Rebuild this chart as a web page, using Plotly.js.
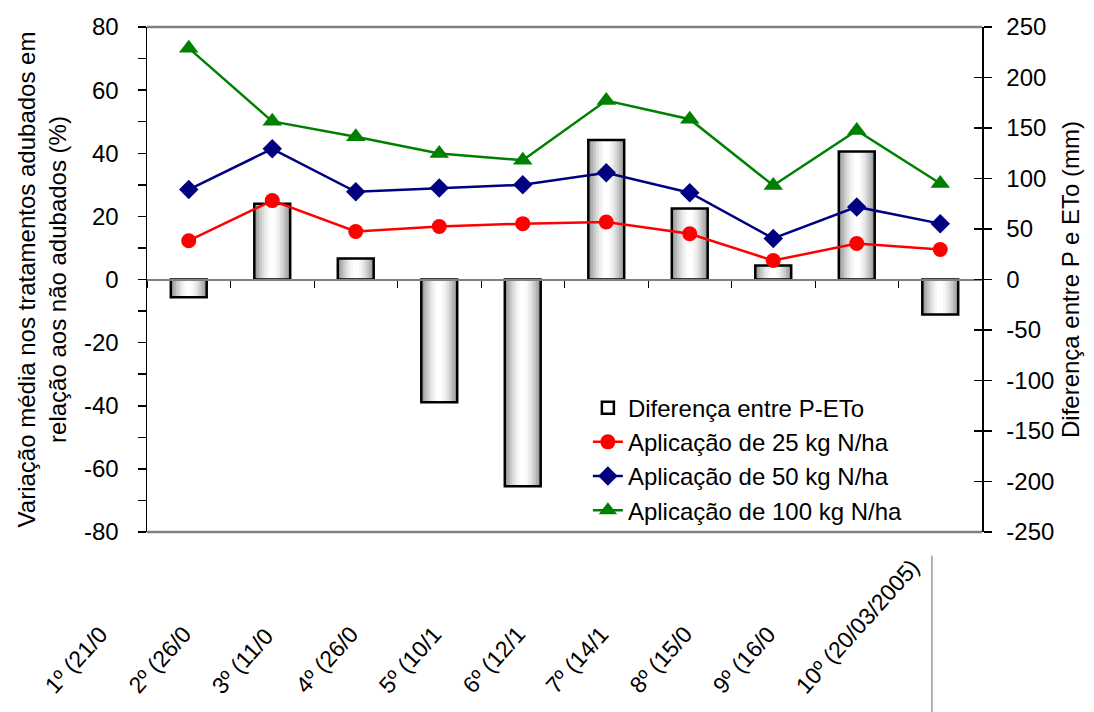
<!DOCTYPE html>
<html>
<head>
<meta charset="utf-8">
<script src="https://cdn.plot.ly/plotly-3.0.1.min.js"></script>
<style>html,body{margin:0;padding:0;background:#fff;}#chart{width:1094px;height:712px;}</style>
</head>
<body>
<div id="chart"></div>
<script>
// ---- data ----
const categories = ['1º','2º','3º','4º','5º','6º','7º','8º','9º','10º'];
const tickLabels = ['1º (21/0','2º (26/0','3º (11/0','4º (26/0','5º (10/1','6º (12/1','7º (14/1','8º (15/0','9º (16/0','10º (20/03/2005)'];
const diffPETo = [-17.5, 75, 20.8, -121.5, -204.6, 138, 70.3, 13.9, 126.7, -34.7];
const n25  = [12.3, 25.0, 15.2, 16.8, 17.7, 18.2, 14.5, 6.0, 11.4, 9.5];
const n50  = [28.5, 41.4, 27.8, 29.0, 30.0, 33.8, 27.5, 13.0, 23.0, 17.7];
const n100 = [73.3, 50.1, 45.2, 39.9, 37.8, 56.7, 50.8, 29.8, 47.2, 30.4];
const leftTicks  = [-80, -60, -40, -20, 0, 20, 40, 60, 80];
const rightTicks = [-250, -200, -150, -100, -50, 0, 50, 100, 150, 200, 250];
const seriesNames = ['Diferença entre P-ETo','Aplicação de 25 kg N/ha','Aplicação de 50 kg N/ha','Aplicação de 100 kg N/ha'];

// ---- styling ----
const FONT = 'Liberation Sans, Arial, Helvetica, sans-serif';
const BAR_W = 0.43;
const layers = [
  [1.00, '#9a9a9a'], [0.86, '#b2b2b2'], [0.72, '#c9c9c9'], [0.58, '#dcdcdc'],
  [0.44, '#ececec'], [0.30, '#f7f7f7'], [0.16, '#ffffff']
];

const traces = [];
layers.forEach(([f, c]) => {
  traces.push({type:'bar', x:categories, y:diffPETo, xaxis:'x', yaxis:'y',
    width:BAR_W*f, marker:{color:c, line:{width:0}}, showlegend:false, hoverinfo:'skip'});
});
traces.push({type:'bar', x:categories, y:diffPETo, xaxis:'x', yaxis:'y', name:seriesNames[0],
  width:BAR_W, marker:{color:'rgba(255,255,255,0)', line:{color:'#000', width:2.5}},
  legendgroup:'g0'});

function lineTrace(y, name, color, symbol, size, g){
  return {type:'scatter', mode:'lines+markers', x:categories, y:y, xaxis:'x', yaxis:'y2', name:name,
    line:{color:color, width:2.5}, marker:{color:color, symbol:symbol, size:size, line:{width:0}},
    legendgroup:g};
}
traces.push(lineTrace(n25, seriesNames[1], '#ff0000', 'circle', 15, 'g1'));
traces.push(lineTrace(n50, seriesNames[2], '#000080', 'diamond', 15, 'g2'));
traces.push(lineTrace(n100, seriesNames[3], '#008000', 'triangle-up', 17, 'g3'));
// carrier for the inside ticks of the right axis
traces.push({type:'scatter', mode:'markers', x:[categories[0]], y:[null], xaxis:'x', yaxis:'y3', showlegend:false, hoverinfo:'skip'});

const annotations = tickLabels.map((t, i) => ({
  xref:'x', yref:'paper', x:categories[i], y:-0.335, xshift:-152,
  xanchor:'left', yanchor:'bottom', textangle:-48, showarrow:false,
  text:t, font:{family:FONT, size:23, color:'#000'}
}));

const layout = {
  width:1094, height:712,
  margin:{l:147, r:112, t:27, b:180},
  paper_bgcolor:'#fff', plot_bgcolor:'#fff',
  font:{family:FONT, color:'#000', size:24},
  barmode:'overlay',
  showlegend:true,
  legend:{x:0.528, y:0.29, xanchor:'left', yanchor:'top', bgcolor:'rgba(255,255,255,0)',
    font:{family:FONT, size:24, color:'#000'}, traceorder:'grouped', tracegroupgap:0},
  xaxis:{type:'category', anchor:'free', position:0.5, showline:true, linecolor:'#808080', linewidth:2,
    ticks:'outside', tickson:'boundaries', ticklen:7, tickcolor:'#000', tickwidth:1,
    showticklabels:false, showgrid:false, zeroline:false, range:[-0.5, 9.5]},
  yaxis:{side:'right', range:[-250,250], tickmode:'array', tickvals:rightTicks, ticktext:rightTicks.map(String),
    ticks:'outside', ticklen:8, tickwidth:1.5, tickcolor:'#000',
    showline:true, linecolor:'#000', linewidth:1.5, showgrid:false, zeroline:false,
    ticklabelstandoff:10, tickfont:{size:24},
    title:{text:'Diferença entre P e ETo (mm)', font:{size:24}, standoff:9}},
  yaxis2:{overlaying:'y', side:'left', range:[-80,80], tickmode:'array', tickvals:leftTicks, ticktext:leftTicks.map(String),
    ticks:'outside', ticklen:8,
    tickwidth:1.5, tickcolor:'#000', minor:{dtick:10, tick0:0, ticks:'outside', ticklen:8, tickwidth:1.5, tickcolor:'#000'},
    showline:true, linecolor:'#000', linewidth:1.5, showgrid:false, zeroline:false,
    ticklabelstandoff:14, tickfont:{size:24},
    title:{text:'Variação média nos tratamentos adubados em<br>relação aos não adubados (%)', font:{size:24}, standoff:10}},
  yaxis3:{overlaying:'y', side:'right', range:[-250,250], tickmode:'array', tickvals:rightTicks, ticks:'inside', ticklen:8,
    tickwidth:1.5, tickcolor:'#000', showticklabels:false, showline:false, showgrid:false, zeroline:false},
  shapes:[
    {type:'line', xref:'paper', yref:'paper', x0:0, x1:1, y0:1, y1:1, line:{color:'#808080', width:2.5}},
    {type:'line', xref:'paper', yref:'paper', x0:0, x1:1, y0:0, y1:0, line:{color:'#808080', width:2.5}},
    {type:'line', xref:'paper', yref:'paper', x0:0.940, x1:0.940, y0:-0.047, y1:-0.36, line:{color:'#999', width:1.5}}
  ],
  annotations:annotations
};

Plotly.newPlot('chart', traces, layout, {displayModeBar:false, staticPlot:true});
</script>
</body>
</html>
